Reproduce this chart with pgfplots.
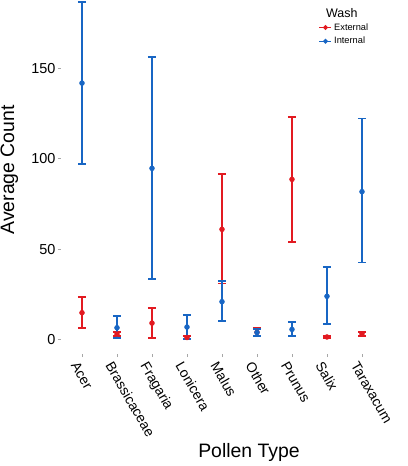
\documentclass[border=0pt]{standalone}
\usepackage{pgfplots}
\pgfplotsset{compat=1.18}
\usepackage{pgfplotstable}
\usepackage{fontspec}
\setmainfont{Liberation Sans}
\definecolor{cext}{RGB}{226,26,33}
\definecolor{cint}{RGB}{24,102,196}
\pgfplotstableread{
x y ep em
1 14.8 8.8 8.6
2 3.0 1.0 0.9
3 9.1 8.3 8.1
4 1.1 0.7 0.7
5 60.9 30.5 29.9
6 4.0 2.2 2.1
7 88.5 34.6 34.5
8 1.4 0.4 0.4
9 3.2 1.1 1.1
}\external
\pgfplotstableread{
x y ep em
1 141.7 44.8 44.7
2 6.5 6.5 5.5
3 94.6 61.6 61.0
4 6.9 6.5 6.5
5 20.9 11.6 10.7
6 3.9 1.8 1.8
7 5.6 4.1 3.7
8 23.9 16.1 15.5
9 81.7 40.5 39.1
}\internal
\begin{document}
\begin{tikzpicture}
\path[use as bounding box] (-61bp,-112bp) rectangle (347bp,354bp);
\begin{axis}[
  scale only axis,
  width=322bp, height=354bp,
  xmin=0.4, xmax=9.6,
  ymin=-8.0, ymax=187.6,
  axis line style={draw=none},
  xtick={1,...,9},
  xticklabels={Acer,Brassicaceae,Fragaria,Lonicera,Malus,Other,Prunus,Salix,Taraxacum},
  ytick={0,50,100,150},
  xtick pos=left, ytick pos=left,
  tick align=outside,
  major tick length=3bp,
  tick style={gray!70, line width=0.6bp},
  yticklabel style={font=\fontsize{14.5}{16}\selectfont, xshift=1bp},
  xticklabel style={font=\fontsize{14}{16}\selectfont, rotate=-60, anchor=north west, xshift=-2bp, yshift=-1bp},
  /pgf/number format/assume math mode=true,
  ylabel={Average Count},
  xlabel={Pollen Type},
  ylabel style={at={(rel axis cs:-0.160,0.52)}, anchor=center, font=\fontsize{19.5}{21}\selectfont},
  xlabel style={at={(rel axis cs:0.584,-0.277)}, anchor=center, font=\fontsize{19.5}{21}\selectfont},
  legend style={draw=none, fill=none, at={(rel axis cs:0.800,0.940)}, anchor=north west,
    font=\fontsize{9.3}{10}\selectfont, row sep=1.5bp, inner sep=0pt,
    legend cell align=left},
  legend image code/.code={\draw[mark repeat=2,mark phase=2,#1] plot coordinates {(0bp,0bp) (6bp,0bp) (12bp,0bp)};},
]
\addlegendimage{cext, line width=1.4bp, mark=*, mark size=1.6bp}
\addlegendentry{External}
\addlegendimage{cint, line width=1.4bp, mark=*, mark size=1.6bp}
\addlegendentry{Internal}
\addplot[cext, only marks, mark=*, mark size=2.5bp, forget plot,
  error bars/.cd, y dir=both, y explicit,
  error bar style={line width=1.7bp},
  error mark options={rotate=90, line width=1.7bp, mark size=4bp}]
  table[x=x, y=y, y error plus=ep, y error minus=em] {\external};
\addplot[cint, only marks, mark=*, mark size=2.5bp, forget plot,
  error bars/.cd, y dir=both, y explicit,
  error bar style={line width=1.7bp},
  error mark options={rotate=90, line width=1.7bp, mark size=4bp}]
  table[x=x, y=y, y error plus=ep, y error minus=em] {\internal};
\node[font=\fontsize{12.5}{14}\selectfont, anchor=center] at (rel axis cs:0.872,0.962) {Wash};
\end{axis}
\end{tikzpicture}
\end{document}
